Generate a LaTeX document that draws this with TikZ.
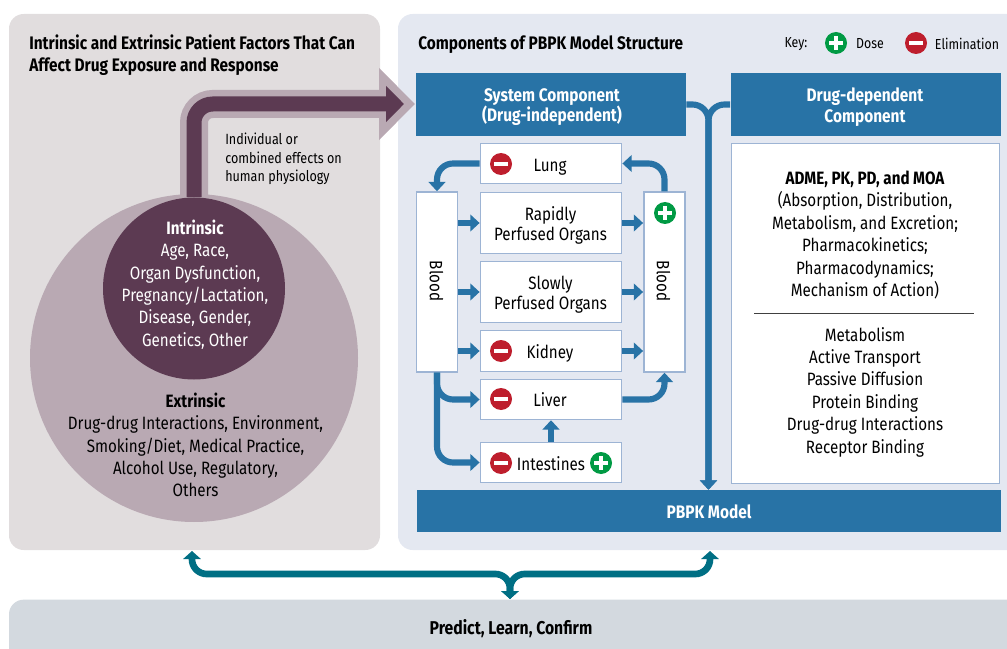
\documentclass[tikz,border=0pt]{standalone}
\usepackage{fontspec}
\usepackage{xcolor}
\setmainfont{Fira Sans}[FakeStretch=0.85]
\usetikzlibrary{arrows.meta}
\definecolor{panelmauve}{HTML}{E1DDDE}
\definecolor{panelblue}{HTML}{E4E8F1}
\definecolor{barslate}{HTML}{D3D9DF}
\definecolor{headblue}{HTML}{2873A6}
\definecolor{edgeblue}{HTML}{9DB4D4}
\definecolor{lightplum}{HTML}{B9A9B3}
\definecolor{darkplum}{HTML}{5C3A52}
\definecolor{elimred}{HTML}{BE1E2D}
\definecolor{dosegreen}{HTML}{009A44}
\definecolor{linkteal}{HTML}{006F84}
\tikzset{
	panel/.style={rounded corners=11pt, inner sep=0pt},
	headbox/.style={fill=headblue, inner sep=0pt},
	headtext/.style={text=white, inner sep=0pt, align=center, font=\fontsize{13.6}{15.2}\selectfont\bfseries},
	organbox/.style={draw=edgeblue, line width=1.1pt, fill=white, inner sep=0pt},
	organtext/.style={inner sep=0pt, align=center, font=\fontsize{13.4}{15.4}\selectfont},
	plaintext/.style={inner sep=0pt, align=center, font=\fontsize{13.4}{16.8}\selectfont},
	flow/.style={draw=headblue, line width=4.6pt, rounded corners=12pt, -{Triangle[length=7pt,width=12.5pt]}},
	linkarrow/.style={draw=linkteal, line width=5pt, rounded corners=11pt, {Triangle[length=6pt,width=13pt]}-{Triangle[length=6pt,width=13pt]}},
	minusicon/.style={circle, fill=elimred, minimum size=16.5pt, inner sep=0pt,
		path picture={\fill[white] ([xshift=-5.4pt,yshift=-1.8pt]path picture bounding box.center) rectangle ([xshift=5.4pt,yshift=1.8pt]path picture bounding box.center);}},
	plusicon/.style={circle, fill=dosegreen, minimum size=16.5pt, inner sep=0pt,
		path picture={\fill[white] ([xshift=-5.4pt,yshift=-1.8pt]path picture bounding box.center) rectangle ([xshift=5.4pt,yshift=1.8pt]path picture bounding box.center);
			\fill[white] ([xshift=-1.8pt,yshift=-5.4pt]path picture bounding box.center) rectangle ([xshift=1.8pt,yshift=5.4pt]path picture bounding box.center);}}
}
\begin{document}
\begin{tikzpicture}[x=0.75pt,y=-0.75pt]
	\useasboundingbox (0,0) rectangle (1007,649);

	\node[panel, fill=panelmauve, minimum width=278.25pt, minimum height=402pt] (factors) at (194.5,282) {};
	\node[panel, fill=panelblue, minimum width=480pt, minimum height=402pt] (structure) at (718,282) {};
	\node[panel, fill=barslate, minimum width=780pt, minimum height=80pt] (predict) at (529,653) {};

	\node[anchor=west, plaintext, align=left, font=\fontsize{13.6}{16}\selectfont\bfseries] (factortitle) at (29,55) {Intrinsic and Extrinsic Patient Factors That Can\\Affect Drug Exposure and Response};
	\node[anchor=west, plaintext, font=\fontsize{13.6}{16}\selectfont\bfseries] (structuretitle) at (418,45) {Components of PBPK Model Structure};

	\node[circle, fill=lightplum, minimum size=246pt, inner sep=0pt] (extrinsic) at (194,358) {};
	\coordinate (bandstart) at (194,215);
	\coordinate (bandtip) at (415,104);
	\draw[draw=lightplum, line width=21pt, rounded corners=14pt, -{Triangle[length=27pt,width=52.5pt]}] (bandstart) |- (bandtip);
	\node[circle, fill=darkplum, minimum size=136.5pt, inner sep=0pt] (intrinsic) at (194,288.5) {};
	\coordinate (coretip) at (404,104);
	\draw[draw=darkplum, line width=11.25pt, rounded corners=14pt, -{Triangle[length=13.5pt,width=26.5pt]}] (intrinsic.north) |- (coretip);

	\node[anchor=west, plaintext, align=left, font=\fontsize{11.1}{14.1}\selectfont] (effects) at (225,159) {Individual or\\combined effects on\\human physiology};
	\node[plaintext, text=white] (intrinsictext) at (195,284.5) {{\bfseries Intrinsic}\\Age, Race,\\Organ Dysfunction,\\Pregnancy/Lactation,\\Disease, Gender,\\Genetics, Other};
	\node[plaintext] (extrinsictext) at (195.5,445) {{\bfseries Extrinsic}\\Drug-drug Interactions, Environment,\\Smoking/Diet, Medical Practice,\\Alcohol Use, Regulatory,\\Others};

	\node[plaintext, font=\fontsize{10.9}{13}\selectfont] (keylabel) at (796,44) {Key:};
	\node[plusicon] (keyplus) at (836,43) {};
	\node[plaintext, font=\fontsize{10.9}{13}\selectfont] (keydose) at (870,44) {Dose};
	\node[minusicon] (keyminus) at (916,43) {};
	\node[plaintext, font=\fontsize{10.9}{13}\selectfont] (keyelim) at (967,44) {Elimination};

	\node[headbox, minimum width=202.5pt, minimum height=47.25pt] (system) at (551,104.5) {};
	\node[headtext] (systemtext) at (552,107) {System Component\\(Drug-independent)};
	\node[headbox, minimum width=202.5pt, minimum height=47.25pt] (drugdep) at (865.5,104.5) {};
	\node[headtext] (drugdeptext) at (865,107) {Drug-dependent\\Component};
	\node[headbox, minimum width=438pt, minimum height=31.5pt] (pbpk) at (708.5,511) {};
	\node[headtext] (pbpktext) at (709,512) {PBPK Model};

	\node[organbox, minimum width=106pt, minimum height=30pt] (lung) at (551,163.5) {};
	\node[organtext] (lungtext) at (550,167) {Lung};
	\node[minusicon] (lungminus) at (501,164) {};
	\node[organbox, minimum width=106pt, minimum height=46pt] (rapid) at (551,223) {};
	\node[organtext] (rapidtext) at (550.5,225.5) {Rapidly\\Perfused Organs};
	\node[organbox, minimum width=106pt, minimum height=46pt] (slow) at (551,292) {};
	\node[organtext] (slowtext) at (550.5,294.5) {Slowly\\Perfused Organs};
	\node[organbox, minimum width=106pt, minimum height=31pt] (kidney) at (551,351) {};
	\node[organtext] (kidneytext) at (550,353.5) {Kidney};
	\node[minusicon] (kidneyminus) at (501,351) {};
	\node[organbox, minimum width=106pt, minimum height=30pt] (liver) at (551,399.5) {};
	\node[organtext] (livertext) at (550,399.5) {Liver};
	\node[minusicon] (liverminus) at (501,399) {};
	\node[organbox, minimum width=106pt, minimum height=30pt] (intestines) at (551,462.5) {};
	\node[organtext] (intestinestext) at (551,463.5) {Intestines};
	\node[minusicon] (intestinesminus) at (501,463) {};
	\node[plusicon] (intestinesplus) at (601,463) {};
	\node[organbox, minimum width=31pt, minimum height=135pt] (bloodleft) at (437,282) {};
	\node[organtext, rotate=-90] (bloodlefttext) at (436.5,281) {Blood};
	\node[organbox, minimum width=31pt, minimum height=135pt] (bloodright) at (664.5,282) {};
	\node[organtext, rotate=-90] (bloodrighttext) at (663.5,281) {Blood};
	\node[plusicon] (bloodplus) at (665,213) {};

	\node[organbox, minimum width=201pt, minimum height=255pt] (druginfo) at (865.5,313.5) {};
	\node[plaintext] (adme) at (865,235) {{\bfseries ADME, PK, PD, and MOA}\\(Absorption, Distribution,\\Metabolism, and Excretion;\\Pharmacokinetics;\\Pharmacodynamics;\\Mechanism of Action)};
	\coordinate (ruleleft) at (754,313.5);
	\coordinate (ruleright) at (974,313.5);
	\draw[line width=0.4pt, black!75] (ruleleft) -- (ruleright);
	\node[plaintext] (bindings) at (865,392) {Metabolism\\Active Transport\\Passive Diffusion\\Protein Binding\\Drug-drug Interactions\\Receptor Binding};

	\draw[flow] (lung.west) -| (bloodleft.north);
	\draw[flow] (bloodright.north) |- (lung.east);
	\draw[flow] (bloodleft.east |- rapid.west) -- (rapid.west);
	\draw[flow] (bloodleft.east |- slow.west) -- (slow.west);
	\draw[flow] (bloodleft.east |- kidney.west) -- (kidney.west);
	\draw[flow] (rapid.east) -- (bloodright.west |- rapid.east);
	\draw[flow] (slow.east) -- (bloodright.west |- slow.east);
	\draw[flow] (kidney.east) -- (bloodright.west |- kidney.east);
	\draw[flow] (bloodleft.south) |- (liver.west);
	\draw[flow] (bloodleft.south) |- (intestines.west);
	\draw[flow] (liver.east) -| (bloodright.south);
	\draw[flow] (intestines.north) -- (liver.south);
	\draw[flow] (system.east) -| (pbpk.north);
	\draw[flow] (drugdep.west) -| (pbpk.north);

	\node[plaintext, font=\fontsize{13.9}{15}\selectfont\bfseries] (predicttext) at (511,629) {Predict, Learn, Confirm};
	\coordinate (leftend) at (192,551);
	\coordinate (rightend) at (710,551);
	\coordinate (junction) at (510,574);
	\coordinate (barend) at (510,599);
	\draw[linkarrow] (leftend) |- (junction) -- (barend);
	\draw[linkarrow] (rightend) |- (junction) -- (barend);
\end{tikzpicture}
\end{document}
